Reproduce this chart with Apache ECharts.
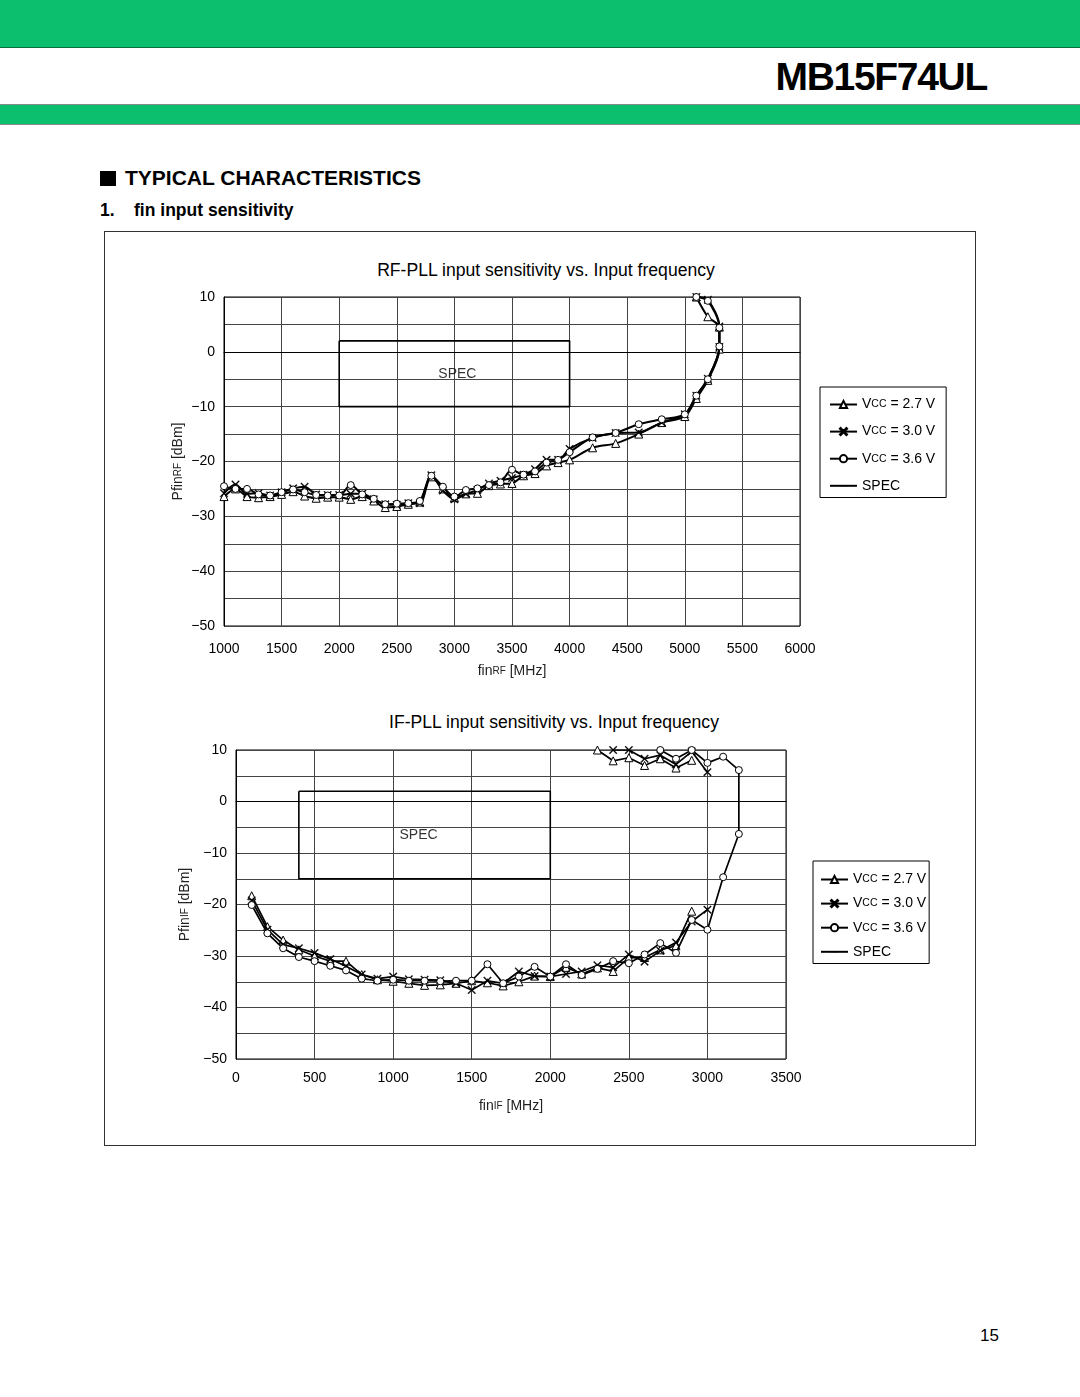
<!DOCTYPE html>
<html><head><meta charset="utf-8">
<script src="https://cdn.jsdelivr.net/npm/echarts@6/dist/echarts.min.js"></script>
<style>
html,body{margin:0;padding:0}
body{width:1080px;height:1397px;position:relative;background:#fff;font-family:"Liberation Sans",Arial,Helvetica,sans-serif;overflow:hidden;color:#000}
.band1{position:absolute;left:0;top:0;width:1080px;height:47px;background:#0BBF6E;border-bottom:1px solid #08703f}
.band2{position:absolute;left:0;top:104px;width:1080px;height:19px;background:#0BBF6E;border-top:1px solid #8a8a8a;border-bottom:1px solid #8a8a8a}
.model{position:absolute;right:93px;top:55px;font-weight:bold;font-size:39px;line-height:44px;letter-spacing:-1.3px}
.h1{position:absolute;left:100px;top:166px;font-weight:bold;font-size:21px;line-height:24px;white-space:nowrap}
.h1 .sq{display:inline-block;width:16px;height:15px;background:#000;margin-right:9px;vertical-align:-1px}
.h2{position:absolute;left:100px;top:199px;font-weight:bold;font-size:17.5px;line-height:22px;white-space:nowrap}
.frame{position:absolute;left:104px;top:231px;width:872px;height:915px;border:1px solid #333;box-sizing:border-box}
.ttl{position:absolute;width:600px;text-align:center;font-size:17.6px;line-height:20px;white-space:nowrap}
.pg{position:absolute;left:980px;top:1326px;font-size:17px;line-height:20px}
#chart{position:absolute;left:0;top:0;width:1080px;height:1397px}
</style></head>
<body>
<div class="band1"></div>
<div class="model">MB15F74UL</div>
<div class="band2"></div>
<div class="h1"><span class="sq"></span>TYPICAL CHARACTERISTICS</div>
<div class="h2">1.&nbsp;&nbsp;&nbsp;&nbsp;fin input sensitivity</div>
<div class="frame"></div>
<div class="ttl" style="left:246px;top:260px">RF-PLL input sensitivity vs. Input frequency</div>
<div class="ttl" style="left:254px;top:712px">IF-PLL input sensitivity vs. Input frequency</div>
<div class="pg">15</div>
<div id="chart"></div>
<script>
// ---------- RF-PLL data (MHz, dBm) ----------
const rfFreq = [1000,1100,1200,1300,1400,1500,1600,1700,1800,1900,2000,2100,2200,2300,2400,2500,2600,2700,2800,2900,3000,3100,3200,3300,3400,3500,3600,3700,3800,3900,4000,4200,4400,4600,4800,5000,5100,5200,5300,5300,5200,5100];
const rf27 = [-26.4,-25.0,-26.4,-26.6,-26.4,-26.0,-25.5,-26.3,-26.7,-26.5,-26.5,-26.9,-26.4,-27.2,-28.4,-28.2,-27.8,-27.4,-22.8,-25.0,-26.6,-25.9,-25.8,-24.4,-24.1,-24.0,-22.6,-22.2,-20.8,-20.2,-19.7,-17.5,-16.7,-15.0,-12.9,-11.8,-8.5,-5.2,0.5,4.5,6.4,10];
const rf30 = [-25.8,-24.2,-25.9,-25.8,-26.2,-25.6,-24.9,-24.6,-26.0,-26.1,-26.1,-25.9,-25.9,-26.9,-27.8,-27.9,-27.6,-27.6,-22.5,-25.3,-26.9,-25.9,-25.2,-24.0,-23.5,-23.0,-22.4,-21.4,-19.7,-19.7,-17.7,-15.7,-14.8,-14.7,-12.9,-11.4,-8.0,-4.9,0.9,4.6,9.5,10];
const rf36 = [-24.5,-25.0,-25.0,-26.0,-26.2,-25.6,-25.1,-25.6,-26.1,-26.2,-26.2,-24.3,-26.0,-26.8,-27.8,-27.7,-27.6,-27.2,-22.6,-24.6,-26.4,-25.2,-24.9,-24.3,-23.8,-21.5,-22.4,-21.8,-20.2,-19.7,-18.3,-15.6,-14.8,-13.2,-12.3,-11.4,-8.0,-5.0,1.0,4.4,9.3,10];
const rfSpecX = [2000,4000,4000,2000,2000];
const rfSpecY = [2,2,-10,-10,2];

// ---------- IF-PLL data (MHz, dBm) ----------
const ifFreqLo27 = [100,200,300,400,500,600,700,800,900,1000,1100,1200,1300,1400,1500,1600,1700,1800,1900,2000,2100,2200,2300,2400,2500,2600,2700,2800,2900];
const ifLo27 = [-18.3,-24.3,-26.9,-28.8,-30.0,-31.0,-31.0,-33.6,-34.6,-34.9,-35.3,-35.7,-35.6,-35.3,-34.8,-35.2,-35.8,-35.0,-33.9,-34.0,-32.2,-33.5,-32.3,-33.0,-30.3,-30.3,-28.8,-28.0,-21.3];
const ifFreqUp27 = [2300,2400,2500,2600,2700,2800,2900];
const ifUp27 = [10,7.9,8.5,7.0,8.3,6.5,8.0];
const ifFreqLo30 = [100,200,300,400,500,600,700,800,900,1000,1100,1200,1300,1400,1500,1600,1700,1800,1900,2000,2100,2200,2300,2400,2500,2600,2700,2800,2900,3000];
const ifLo30 = [-19.2,-24.9,-27.8,-28.5,-29.4,-30.6,-32.0,-33.6,-34.4,-34.0,-34.5,-34.6,-34.7,-35.3,-36.6,-34.8,-35.3,-33.0,-33.9,-34.0,-33.5,-33.0,-31.8,-32.2,-29.7,-31.1,-29.0,-27.4,-23.3,-21.0];
const ifFreqUp30 = [2400,2500,2600,2700,2800,2900,3000];
const ifUp30 = [10,10,8.3,9.0,7.2,9.7,5.7];
const ifFreq36 = [100,200,300,400,500,600,700,800,900,1000,1100,1200,1300,1400,1500,1600,1700,1800,1900,2000,2100,2200,2300,2400,2500,2600,2700,2800,2900,3000,3100,3200,3200,3100,3000,2900,2800,2700];
const if36 = [-20.1,-25.6,-28.5,-30.2,-31.0,-31.9,-32.8,-34.4,-34.8,-34.6,-34.8,-34.8,-34.9,-34.8,-34.8,-31.6,-35.3,-34.0,-32.1,-34.0,-31.6,-33.7,-32.5,-31.0,-31.4,-29.7,-27.5,-29.4,-23.0,-24.9,-14.7,-6.3,6.1,8.7,7.5,10.0,8.3,10.0];
const ifSpecX = [400,2000,2000,400,400];
const ifSpecY = [2,2,-15,-15,2];

const names = ['Vcc = 2.7 V','Vcc = 3.0 V','Vcc = 3.6 V','SPEC'];
const rfXTicks = {min:1000,max:6000,interval:500};
const ifXTicks = {min:0,max:3500,interval:500};
const yTicks = {min:-50,max:10,interval:5};

const zip = (xs, ys) => xs.map((x, i) => [x, ys[i]]);
const FONT = '"Liberation Sans", Arial, sans-serif';
const crossPath = 'path://M1,0L5,4L9,0L10,1L6,5L10,9L9,10L5,6L1,10L0,9L4,5L0,1Z';
const barPath = 'path://M0,0L0.01,0L0,0.01ZM0,4.4L10,4.4L10,5.6L0,5.6ZM10,10L9.99,10L10,9.99Z';
const mk = {
  0:{symbol:'triangle',symbolSize:8,itemStyle:{color:'#fff',borderColor:'#000',borderWidth:1}},
  1:{symbol:crossPath,symbolSize:8,itemStyle:{color:'#000',borderColor:'#000',borderWidth:0.3}},
  2:{symbol:'circle',symbolSize:7,itemStyle:{color:'#fff',borderColor:'#000',borderWidth:1}}
};
function line(idx, data, g, smooth, w){
  return Object.assign({
    name:names[idx], type:'line', xAxisIndex:g, yAxisIndex:g, data:data,
    smooth:smooth, showSymbol:true, animation:false,
    lineStyle:{color:'#000',width:w}, z:3+idx
  }, mk[idx]);
}
function spec(xs, ys, g){
  return {name:'SPEC', type:'line', xAxisIndex:g, yAxisIndex:g, data:zip(xs, ys),
    symbol:barPath, symbolSize:8, showSymbol:false,
    lineStyle:{color:'#000',width:1.6}, itemStyle:{color:'#000',borderColor:'#000',borderWidth:0}, animation:false, z:2};
}
function specLabel(xs, ys, g, dx){
  const cx = (Math.min(...xs)+Math.max(...xs))/2, cy = (Math.min(...ys)+Math.max(...ys))/2;
  return {type:'scatter', xAxisIndex:g, yAxisIndex:g, data:[[cx, cy]], symbolSize:1,
    itemStyle:{color:'rgba(0,0,0,0)'}, silent:true, animation:false,
    label:{show:true, position:'inside', offset:[dx,0], formatter:'SPEC', color:'#000', fontSize:14, fontFamily:FONT}};
}
const yLab = v => (v % 10 === 0) ? String(v).replace('-', '\u2212') : '';
const nameRich = {a:{fontSize:14,fontFamily:FONT,color:'#222'},b:{fontSize:10,fontFamily:FONT,color:'#222'}};
function xAxis(t, g, nm, gap, lm){
  return Object.assign({type:'value', gridIndex:g,
    axisLine:{show:true,lineStyle:{color:'#000',width:1}}, axisTick:{show:false},
    splitLine:{show:true,lineStyle:{color:'#444',width:1}},
    axisLabel:{color:'#000',fontSize:14,fontFamily:FONT,margin:lm,formatter:v => String(v),showMinLabel:true,showMaxLabel:true},
    name:nm, nameLocation:'middle', nameGap:gap,
    nameTextStyle:{color:'#222',fontFamily:FONT,rich:nameRich}
  }, t);
}
function yAxis(g, nm, gap){
  return Object.assign({type:'value', gridIndex:g,
    axisLine:{show:true,lineStyle:{color:'#000',width:1}}, axisTick:{show:false},
    splitLine:{show:true,lineStyle:{color:'#444',width:1}},
    axisLabel:{color:'#000',fontSize:14,fontFamily:FONT,margin:9,formatter:yLab,showMinLabel:true,showMaxLabel:true},
    name:nm, nameLocation:'middle', nameGap:gap, nameRotate:90, nameMoveOverlap:false,
    nameTextStyle:{color:'#222',fontFamily:FONT,rich:nameRich}
  }, yTicks);
}
const legFmt = n => n === 'SPEC' ? '{t|SPEC}' : '{t|V}{c|CC}{t|' + n.replace('Vcc','') + '}';
const legRich = {t:{fontSize:14,fontFamily:FONT,color:'#000',lineHeight:9},c:{fontSize:10.5,fontFamily:FONT,color:'#000',lineHeight:9}};
function legend(left, top, gap, pad){
  return {data:names, orient:'vertical', left:left, top:top, itemWidth:27, itemHeight:9, itemGap:gap,
    padding:pad, borderColor:'#000', borderWidth:1, backgroundColor:'#fff', selectedMode:false,
    formatter:legFmt, textStyle:{rich:legRich, fontFamily:FONT, fontSize:14, color:'#000'}};
}

const chart = echarts.init(document.getElementById('chart'), null, {renderer:'canvas'});
chart.setOption({
  animation:false,
  grid:[
    {left:224, top:297, width:576, height:329, show:true, borderColor:'#000', borderWidth:1},
    {left:236, top:750, width:550, height:309, show:true, borderColor:'#000', borderWidth:1}
  ],
  xAxis:[
    xAxis(rfXTicks, 0, '{a|fin}{b|RF}{a| [MHz]}', 38, 16),
    xAxis(ifXTicks, 1, '{a|fin}{b|IF}{a| [MHz]}', 40, 12)
  ],
  yAxis:[
    yAxis(0, '{a|Pfin}{b|RF}{a| [dBm]}', 39),
    yAxis(1, '{a|Pfin}{b|IF}{a| [dBm]}', 44)
  ],
  legend:[
    legend(820, 387, 13.1, [10.5,11,4.7,9]),
    legend(813, 861, 10.1, [11.5,3,4.7,7])
  ],
  series:[
    spec(rfSpecX, rfSpecY, 0), specLabel(rfSpecX, rfSpecY, 0, 3),
    line(0, zip(rfFreq, rf27), 0, 0.3, 2),
    line(1, zip(rfFreq, rf30), 0, 0.3, 2),
    line(2, zip(rfFreq, rf36), 0, 0.3, 2),
    spec(ifSpecX, ifSpecY, 1), specLabel(ifSpecX, ifSpecY, 1, -6),
    line(0, zip(ifFreqLo27, ifLo27), 1, false, 1.7),
    line(0, zip(ifFreqUp27, ifUp27), 1, false, 1.7),
    line(1, zip(ifFreqLo30, ifLo30), 1, false, 1.7),
    line(1, zip(ifFreqUp30, ifUp30), 1, false, 1.7),
    line(2, zip(ifFreq36, if36), 1, false, 1.7)
  ]
});
</script>
</body></html>
